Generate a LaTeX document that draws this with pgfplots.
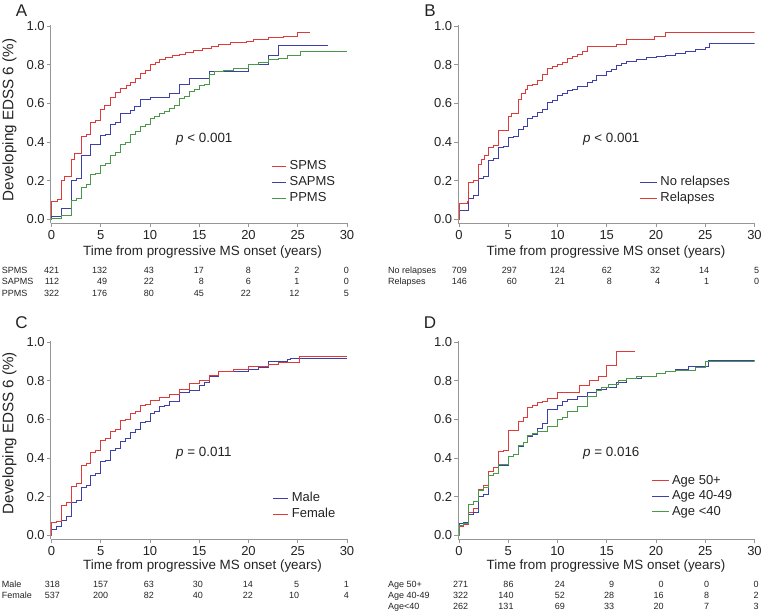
\documentclass[border=0pt]{standalone}
\usepackage{fontspec}
\setmainfont{Liberation Sans}
\usepackage{pgfplots}
\pgfplotsset{compat=1.18}
\definecolor{kmred}{RGB}{222,58,58}
\definecolor{kmblue}{RGB}{60,64,168}
\definecolor{kmgreen}{RGB}{74,152,74}
\definecolor{axgray}{RGB}{150,150,150}
\definecolor{txt}{RGB}{35,35,35}
\pgfplotsset{
  kmaxis/.style={
    x=9.85pt, y=193.5pt,
    xmin=-0.08, xmax=30, ymin=-0.02, ymax=1.005,
    axis x line*=bottom, axis y line*=left,
    axis line style={axgray, line width=0.8pt, -},
    xtick={0,5,10,15,20,25,30}, ytick={0,0.2,0.4,0.6,0.8,1},
    xtick pos=bottom, ytick pos=left,
    tick align=outside, major tick length=4pt,
    tick style={axgray, line width=0.8pt},
    /pgf/number format/assume math mode=true,
    ticklabel style={font=\fontsize{13}{13}\selectfont, text=txt},
    xticklabel style={yshift=0.5pt},
    yticklabel style={xshift=1.5pt, /pgf/number format/fixed, /pgf/number format/fixed zerofill, /pgf/number format/precision=1},
    legend cell align=left,
    legend style={draw=none, fill=none, inner sep=0pt, outer sep=0pt,
      font=\fontsize{13}{13}\selectfont, row sep=4pt, column sep=3pt,
      nodes={inner sep=0pt, text height=9.5pt, text depth=2.5pt, text=txt},
      anchor=north west},
    every axis plot/.append style={const plot, line width=0.9pt},
  },
}
\tikzset{
  tbl/.style={font=\fontsize{9}{9}\selectfont, text=txt, inner sep=0pt, text height=6.5pt, text depth=0pt},
  lab/.style={font=\fontsize{13.4}{13.4}\selectfont, text=txt, inner sep=0pt, text height=9.6pt, text depth=0pt},
}
\begin{document}
\begin{tikzpicture}
\useasboundingbox (0,0) rectangle (762pt,614pt);
% ---------------- A ----------------
\begin{axis}[kmaxis, at={(50.7pt,390.7pt)}, anchor=south west,
  legend image code/.code={\draw[#1] (0pt,0pt) -- (14.5pt,0pt);},
  legend style={at={(axis cs:22.31,0.307)}}]
\addplot[kmred] coordinates {(0,0) (0.03,0.095) (0.6,0.105) (1.0,0.20) (1.3,0.22) (2.0,0.31) (2.3,0.34) (3.0,0.43) (3.5,0.44) (4.0,0.50) (4.5,0.51) (5.0,0.57) (5.4,0.59) (6.0,0.63) (6.5,0.655) (7.0,0.675) (7.6,0.69) (8.0,0.71) (8.5,0.73) (9.0,0.755) (9.5,0.77) (10.0,0.80) (10.6,0.81) (11.0,0.825) (11.6,0.835) (12.3,0.845) (13.0,0.855) (13.6,0.865) (14.4,0.875) (15.3,0.885) (16.2,0.895) (17.0,0.905) (18.2,0.915) (19.8,0.92) (20.5,0.93) (22.0,0.94) (23.5,0.945) (25.0,0.965) (26.2,0.965)};
\addlegendentry{SPMS}
\addplot[kmblue] coordinates {(0,0) (0.03,0.015) (1.0,0.055) (2.0,0.20) (2.5,0.21) (3.0,0.33) (4.0,0.385) (5.0,0.435) (5.5,0.44) (6.0,0.49) (6.5,0.50) (7.0,0.55) (8.0,0.565) (8.4,0.585) (9.0,0.62) (10.0,0.63) (12.0,0.65) (13.0,0.70) (14.0,0.73) (16.0,0.765) (20.0,0.80) (22.0,0.845) (23.0,0.90) (28.1,0.90)};
\addlegendentry{SAPMS}
\addplot[kmgreen] coordinates {(0,0) (0.03,0.005) (1.0,0.02) (2.0,0.10) (2.5,0.11) (3.0,0.165) (3.5,0.18) (4.0,0.23) (4.5,0.24) (5.0,0.28) (5.5,0.29) (6.0,0.33) (6.5,0.345) (7.0,0.39) (7.5,0.40) (8.0,0.44) (8.5,0.455) (9.0,0.48) (9.5,0.49) (10.0,0.52) (10.5,0.53) (11.0,0.55) (11.5,0.56) (12.0,0.575) (12.5,0.59) (13.0,0.625) (13.5,0.635) (14.0,0.66) (14.5,0.67) (15.0,0.69) (15.5,0.70) (16.0,0.75) (16.5,0.765) (17.5,0.77) (18.5,0.78) (20.0,0.80) (21.0,0.81) (22.0,0.825) (23.0,0.83) (24.0,0.845) (25.3,0.87) (30.0,0.87)};
\addlegendentry{PPMS}
\end{axis}
% ---------------- B ----------------
\begin{axis}[kmaxis, at={(458.2pt,390.7pt)}, anchor=south west,
  legend image code/.code={\draw[#1] (0pt,0pt) -- (16.5pt,0pt);},
  legend style={at={(axis cs:18.38,0.223)}}]
\addplot[kmblue] coordinates {(0,0) (0.03,0.045) (1.0,0.11) (1.5,0.125) (2.0,0.21) (2.5,0.22) (3.0,0.305) (3.5,0.315) (4.0,0.37) (4.5,0.375) (5.0,0.425) (5.5,0.43) (6.0,0.465) (6.5,0.48) (7.0,0.52) (7.5,0.53) (8.0,0.555) (8.5,0.57) (9.0,0.605) (9.5,0.615) (10.0,0.64) (10.5,0.65) (11.0,0.665) (11.5,0.67) (12.0,0.685) (13.0,0.71) (13.5,0.72) (14.0,0.745) (15.0,0.765) (15.5,0.775) (16.0,0.795) (16.5,0.805) (17.0,0.815) (18.0,0.825) (19.0,0.835) (20.0,0.84) (21.0,0.85) (22.0,0.86) (23.0,0.87) (24.0,0.88) (25.0,0.89) (25.4,0.91) (30.0,0.91)};
\addlegendentry{No relapses}
\addplot[kmred] coordinates {(0,0) (0.03,0.08) (0.5,0.085) (0.9,0.095) (1.0,0.19) (1.5,0.20) (2.0,0.285) (2.3,0.31) (2.6,0.33) (3.0,0.37) (3.5,0.38) (4.0,0.46) (5.0,0.53) (5.3,0.55) (6.0,0.62) (6.3,0.65) (6.7,0.67) (7.0,0.69) (7.5,0.70) (8.0,0.72) (8.5,0.75) (9.0,0.78) (9.5,0.79) (10.0,0.80) (10.5,0.81) (11.0,0.83) (11.5,0.84) (12.0,0.855) (12.5,0.87) (13.0,0.895) (16.0,0.905) (17.0,0.93) (19.8,0.945) (21.0,0.965) (30.0,0.965)};
\addlegendentry{Relapses}
\end{axis}
% ---------------- C ----------------
\begin{axis}[kmaxis, at={(50.7pt,74.7pt)}, anchor=south west,
  legend image code/.code={\draw[#1] (0pt,0pt) -- (15pt,0pt);},
  legend style={at={(axis cs:22.49,0.222)}}]
\addplot[kmblue] coordinates {(0,0) (0.03,0.03) (0.5,0.045) (1.0,0.08) (1.5,0.10) (2.0,0.17) (2.5,0.18) (3.0,0.25) (3.5,0.26) (4.0,0.31) (4.5,0.32) (5.0,0.38) (5.5,0.39) (6.0,0.44) (6.5,0.45) (7.0,0.485) (7.5,0.50) (8.0,0.53) (8.5,0.55) (9.0,0.585) (9.5,0.59) (10.0,0.63) (10.5,0.64) (11.0,0.665) (11.5,0.67) (12.0,0.695) (13.0,0.74) (14.0,0.75) (15.0,0.775) (15.5,0.79) (16.0,0.82) (17.0,0.845) (18.0,0.85) (20.0,0.86) (21.0,0.87) (22.0,0.90) (24.0,0.91) (24.3,0.915) (30.0,0.915)};
\addlegendentry{Male}
\addplot[kmred] coordinates {(0,0) (0.03,0.065) (0.5,0.07) (1.0,0.155) (1.5,0.17) (2.0,0.255) (2.5,0.27) (3.0,0.36) (3.5,0.37) (4.0,0.43) (4.5,0.44) (5.0,0.49) (5.5,0.50) (6.0,0.535) (6.5,0.55) (7.0,0.595) (7.5,0.60) (8.0,0.63) (8.5,0.64) (9.0,0.67) (9.5,0.675) (10.0,0.70) (11.0,0.715) (12.0,0.73) (13.0,0.755) (14.0,0.785) (15.0,0.80) (16.0,0.825) (17.0,0.845) (18.5,0.86) (20.0,0.875) (22.0,0.885) (23.0,0.895) (25.2,0.925) (30.0,0.925)};
\addlegendentry{Female}
\end{axis}
% ---------------- D ----------------
\begin{axis}[kmaxis, at={(458.2pt,74.7pt)}, anchor=south west,
  legend image code/.code={\draw[#1] (0pt,0pt) -- (16.5pt,0pt);},
  legend style={at={(axis cs:19.56,0.314)}, row sep=3.5pt}]
\addplot[kmred] coordinates {(0,0) (0.03,0.045) (0.5,0.055) (1.0,0.12) (1.5,0.14) (2.0,0.24) (2.5,0.26) (3.0,0.33) (3.5,0.35) (4.0,0.435) (4.5,0.44) (5.0,0.54) (6.0,0.59) (6.5,0.61) (7.0,0.66) (7.5,0.67) (8.0,0.685) (8.5,0.695) (9.0,0.71) (10.0,0.74) (12.2,0.775) (13.2,0.80) (14.2,0.82) (15.0,0.88) (16.0,0.95) (17.9,0.95)};
\addlegendentry{Age 50+}
\addplot[kmblue] coordinates {(0,0) (0.03,0.06) (0.5,0.065) (1.0,0.11) (1.5,0.12) (2.0,0.20) (2.5,0.21) (3.0,0.31) (3.5,0.32) (4.0,0.36) (5.0,0.41) (5.5,0.42) (6.0,0.46) (6.5,0.48) (7.0,0.51) (7.5,0.52) (8.0,0.555) (8.5,0.58) (9.0,0.65) (10.0,0.67) (10.5,0.69) (11.0,0.705) (12.0,0.72) (13.0,0.74) (14.0,0.755) (15.0,0.765) (16.0,0.79) (17.0,0.81) (18.5,0.82) (20.0,0.835) (21.0,0.85) (22.0,0.86) (23.3,0.875) (25.3,0.905) (30.0,0.905)};
\addlegendentry{Age 40-49}
\addplot[kmgreen] coordinates {(0,0) (0.03,0.05) (0.5,0.06) (1.0,0.16) (1.5,0.175) (2.0,0.235) (2.5,0.25) (3.0,0.31) (3.5,0.32) (4.0,0.365) (5.0,0.41) (5.5,0.42) (6.0,0.465) (6.5,0.48) (7.0,0.515) (7.5,0.525) (8.0,0.535) (9.0,0.565) (10.0,0.60) (10.5,0.61) (11.0,0.64) (12.0,0.665) (13.0,0.72) (14.0,0.75) (14.5,0.765) (15.2,0.78) (16.2,0.80) (17.0,0.81) (18.0,0.82) (20.0,0.835) (21.0,0.845) (22.0,0.855) (24.0,0.87) (25.0,0.90) (30.0,0.905)};
\addlegendentry{Age <40}
\end{axis}
% ---------------- texts ----------------
\node[font=\fontsize{17}{17}\selectfont, text=txt, inner sep=0pt] at (21.5pt,603pt) {A};
\node[font=\fontsize{17}{17}\selectfont, text=txt, inner sep=0pt] at (430pt,603pt) {B};
\node[font=\fontsize{17}{17}\selectfont, text=txt, inner sep=0pt] at (21.5pt,291pt) {C};
\node[font=\fontsize{17}{17}\selectfont, text=txt, inner sep=0pt] at (430pt,291pt) {D};
\node[font=\fontsize{15.2}{15.2}\selectfont, text=txt, inner sep=0pt, text height=10.9pt, text depth=0pt, rotate=90] at (8pt,494pt) {Developing EDSS 6 (\%)};
\node[font=\fontsize{15.2}{15.2}\selectfont, text=txt, inner sep=0pt, text height=10.9pt, text depth=0pt, rotate=90] at (8pt,181pt) {Developing EDSS 6 (\%)};
\node[lab] at (202.5pt,363pt) {Time from progressive MS onset (years)};
\node[lab] at (606pt,363pt) {Time from progressive MS onset (years)};
\node[lab] at (202.5pt,49pt) {Time from progressive MS onset (years)};
\node[lab] at (606pt,49pt) {Time from progressive MS onset (years)};
\node[lab, anchor=west] at (176pt,476pt) {\textit{p} < 0.001};
\node[lab, anchor=west] at (583pt,476pt) {\textit{p} < 0.001};
\node[lab, anchor=west] at (176pt,162pt) {\textit{p} = 0.011};
\node[lab, anchor=west] at (583pt,162pt) {\textit{p} = 0.016};
% risk tables A
\foreach \lab/\y/\a/\b/\c/\d/\e/\f/\g in {SPMS/343.5/421/132/43/17/8/2/0, SAPMS/332.3/112/49/22/8/6/1/0, PPMS/321/322/176/80/45/22/12/5}{
  \node[tbl, anchor=west] at (1.7pt,\y pt) {\lab};
  \node[tbl, anchor=east] at (59.3pt,\y pt) {\a};
  \node[tbl, anchor=east] at (107.3pt,\y pt) {\b};
  \node[tbl, anchor=east] at (154pt,\y pt) {\c};
  \node[tbl, anchor=east] at (204pt,\y pt) {\d};
  \node[tbl, anchor=east] at (251pt,\y pt) {\e};
  \node[tbl, anchor=east] at (299.7pt,\y pt) {\f};
  \node[tbl, anchor=east] at (349pt,\y pt) {\g};
}
% risk tables B
\foreach \lab/\y/\a/\b/\c/\d/\e/\f/\g in {No relapses/343.5/709/297/124/62/32/14/5, Relapses/332.3/146/60/21/8/4/1/0}{
  \node[tbl, anchor=west] at (388pt,\y pt) {\lab};
  \node[tbl, anchor=east] at (467pt,\y pt) {\a};
  \node[tbl, anchor=east] at (517pt,\y pt) {\b};
  \node[tbl, anchor=east] at (565pt,\y pt) {\c};
  \node[tbl, anchor=east] at (612pt,\y pt) {\d};
  \node[tbl, anchor=east] at (660.3pt,\y pt) {\e};
  \node[tbl, anchor=east] at (709.3pt,\y pt) {\f};
  \node[tbl, anchor=east] at (759.3pt,\y pt) {\g};
}
% risk tables C
\foreach \lab/\y/\a/\b/\c/\d/\e/\f/\g in {Male/30/318/157/63/30/14/5/1, Female/18.5/537/200/82/40/22/10/4}{
  \node[tbl, anchor=west] at (1.7pt,\y pt) {\lab};
  \node[tbl, anchor=east] at (60pt,\y pt) {\a};
  \node[tbl, anchor=east] at (108.3pt,\y pt) {\b};
  \node[tbl, anchor=east] at (154pt,\y pt) {\c};
  \node[tbl, anchor=east] at (203pt,\y pt) {\d};
  \node[tbl, anchor=east] at (253pt,\y pt) {\e};
  \node[tbl, anchor=east] at (299.3pt,\y pt) {\f};
  \node[tbl, anchor=east] at (349pt,\y pt) {\g};
}
% risk tables D
\foreach \lab/\y/\a/\b/\c/\d/\e/\f/\g in {Age 50+/30/271/86/24/9/0/0/0, Age 40-49/19/322/140/52/28/16/8/2, Age<40/8/262/131/69/33/20/7/3}{
  \node[tbl, anchor=west] at (388pt,\y pt) {\lab};
  \node[tbl, anchor=east] at (468.3pt,\y pt) {\a};
  \node[tbl, anchor=east] at (513.7pt,\y pt) {\b};
  \node[tbl, anchor=east] at (565pt,\y pt) {\c};
  \node[tbl, anchor=east] at (614.3pt,\y pt) {\d};
  \node[tbl, anchor=east] at (663.7pt,\y pt) {\e};
  \node[tbl, anchor=east] at (709.3pt,\y pt) {\f};
  \node[tbl, anchor=east] at (758.7pt,\y pt) {\g};
}
\end{tikzpicture}
\end{document}
